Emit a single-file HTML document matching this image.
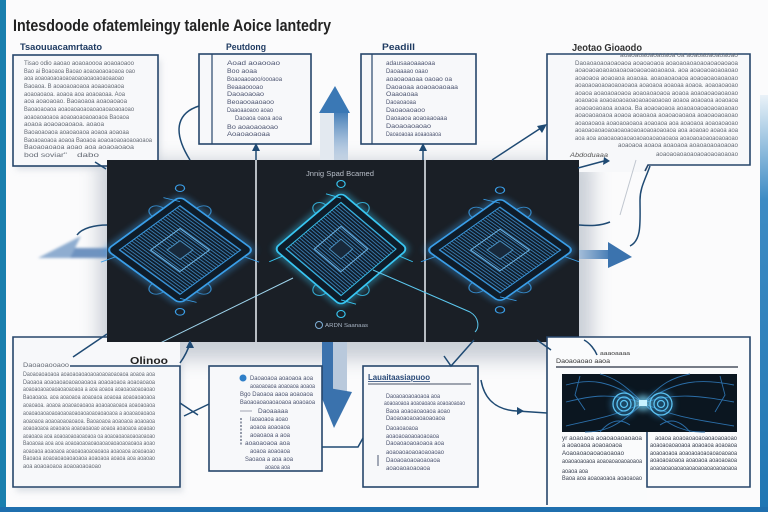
<!DOCTYPE html>
<html><head><meta charset="utf-8"><style>
html,body{margin:0;padding:0;background:#fbfbfc;}
svg{display:block;}
text{font-family:"Liberation Sans",sans-serif;}
.t{font-size:6px;fill:#646a74;}
.h{font-size:9px;font-weight:bold;fill:#1f3b62;}
.c{fill:none;stroke:#1f4a73;stroke-width:1.5;}
.b{fill:#f7f8fa;stroke:#27466b;stroke-width:1.6;}
</style></head><body>
<svg width="768" height="512" viewBox="0 0 768 512" xmlns="http://www.w3.org/2000/svg">
<defs>
<filter id="glow" x="-50%" y="-50%" width="200%" height="200%"><feGaussianBlur stdDeviation="3"/></filter>
<filter id="blur8" x="-50%" y="-50%" width="200%" height="200%"><feGaussianBlur stdDeviation="9"/></filter>
<filter id="blur3" x="-50%" y="-50%" width="200%" height="200%"><feGaussianBlur stdDeviation="3"/></filter>
<filter id="blur1" x="-50%" y="-50%" width="200%" height="200%"><feGaussianBlur stdDeviation="1.2"/></filter>
<pattern id="hatch" width="2.6" height="2.6" patternUnits="userSpaceOnUse"><rect width="2.6" height="2.6" fill="#101e2c"/><line x1="0" y1="1.3" x2="2.6" y2="1.3" stroke="#3f86c0" stroke-width="0.8"/></pattern>
<linearGradient id="rstrip" x1="0" y1="0" x2="0" y2="1"><stop offset="0" stop-color="#eaf2f8"/><stop offset="0.25" stop-color="#3d8bc4"/><stop offset="1" stop-color="#1f76b3"/></linearGradient>
<linearGradient id="upsh" x1="0" y1="0" x2="0" y2="1"><stop offset="0" stop-color="#3c78b4"/><stop offset="1" stop-color="#a9c1dc" stop-opacity="0.5"/></linearGradient>
<linearGradient id="rarr" x1="0" y1="0" x2="1" y2="0"><stop offset="0" stop-color="#a8c0da"/><stop offset="1" stop-color="#3a74b0"/></linearGradient>
<g id="chip">
 <rect x="-40" y="-40" width="80" height="80" rx="5" fill="none" stroke="currentColor" stroke-width="5" opacity=".5" filter="url(#glow)"/>
 <rect x="-40" y="-40" width="80" height="80" rx="5" fill="#0f1c29" stroke="currentColor" stroke-width="1.6"/>
 <rect x="-33" y="-33" width="66" height="66" fill="url(#hatch)" stroke="currentColor" stroke-width="0.9" opacity=".95"/>
 <rect x="-16" y="-16" width="32" height="32" fill="none" stroke="#6fb6e6" stroke-width="0.9"/>
 <rect x="-7" y="-7" width="14" height="14" fill="#18293b" stroke="#4a90c0" stroke-width="0.9"/>
 <path d="M-40,-22 C-50,-22 -50,-10 -40,-10 M40,10 C50,10 50,22 40,22 M-22,-40 C-22,-50 -10,-50 -10,-40 M10,40 C10,50 22,50 22,40" fill="none" stroke="currentColor" stroke-width="1" opacity=".8"/>
 <circle cx="-46" cy="-46" r="3.5" fill="none" stroke="currentColor" stroke-width="1"/>
 <circle cx="46" cy="46" r="3.5" fill="none" stroke="currentColor" stroke-width="1"/>
 <path d="M-36,-36 L-48,-30 M36,36 L48,30 M-30,40 L-34,52 M40,-30 L52,-34" stroke="currentColor" stroke-width="0.9" fill="none"/>
</g>
</defs>

<rect x="0" y="0" width="6" height="512" fill="#1a7fae"/>
<rect x="760" y="95" width="8" height="417" fill="url(#rstrip)"/>
<rect x="0" y="507" width="768" height="5" fill="#1f6fae"/>

<text x="13" y="31" font-size="17" font-weight="bold" fill="#222" textLength="318" lengthAdjust="spacingAndGlyphs">Intesdoode ofatemleingy talenle Aoice lantedry</text>

<rect x="98" y="160" width="495" height="200" fill="#8f9bab" opacity=".45" filter="url(#blur8)"/>
<rect x="16" y="60" width="145" height="110" fill="#c5ccd6" opacity=".5" filter="url(#blur3)"/>
<rect x="16" y="342" width="167" height="150" fill="#c5ccd6" opacity=".5" filter="url(#blur3)"/>

<rect x="320" y="110" width="14" height="52" fill="#e3e9f0"/>
<rect x="334" y="110" width="14" height="52" fill="url(#upsh)"/>
<polygon points="335,86 319,113 350,113" fill="#3a78b5"/>

<g filter="url(#blur1)">
<rect x="66" y="248" width="42" height="10" fill="#6e93c0"/>
<polygon points="81,236 38,258 70,258" fill="#8fadd0"/>
</g>
<rect x="578" y="250" width="36" height="9" fill="url(#rarr)"/>
<polygon points="608,242 632,257 608,268" fill="#3b73ae"/>

<rect x="322" y="340" width="11" height="52" fill="#3b72ad"/>
<rect x="333" y="340" width="14" height="52" fill="#b9c9dc"/>
<polygon points="317,386 352,392 334,428" fill="#3a72ad"/>

<text x="20" y="50" class="h" textLength="82" lengthAdjust="spacingAndGlyphs">Tsaouuacamrtaato</text>
<rect x="13" y="55" width="145" height="111" class="b"/>
<g class="t">
<text x="24" y="65" textLength="110" lengthAdjust="spacingAndGlyphs">Tisao odio aaoao aoaoaoooa aoaoaoaoo</text>
<text x="24" y="73" textLength="111" lengthAdjust="spacingAndGlyphs">Bao ai Boaoaoa Baoao aoaoaoaoaoaoa oao</text>
<text x="24" y="80" textLength="100" lengthAdjust="spacingAndGlyphs">aoa aoaoaoaoaoaoaoaoaoaoaoaoaaoao</text>
<text x="24" y="88" textLength="100" lengthAdjust="spacingAndGlyphs">Baoaoa. B aoaoaoaoaoa aoaaoaoaoa</text>
<text x="24" y="96" textLength="101" lengthAdjust="spacingAndGlyphs">aoaoaoaoa. aoaoa aoa aoaoaoaa. Aoa</text>
<text x="24" y="103" textLength="103" lengthAdjust="spacingAndGlyphs">aoa aoaoaoao. Baoaoaoa aoaoaoaoa</text>
<text x="24" y="111" textLength="110" lengthAdjust="spacingAndGlyphs">Baoaoaoaoa aoaoaoaoaoaoaoaoaoaoaoao</text>
<text x="24" y="119" textLength="105" lengthAdjust="spacingAndGlyphs">aoaoaoaoaoa aoaoaoaoaoaoaoa Baoaoa</text>
<text x="24" y="126" textLength="80" lengthAdjust="spacingAndGlyphs">aoaoa aoaoaoaoaoa. aoaoa</text>
<text x="24" y="134" textLength="105" lengthAdjust="spacingAndGlyphs">Baoaoaoaoa aoaoaoaoa aoaoa aoaoaa</text>
<text x="24" y="142" textLength="128" lengthAdjust="spacingAndGlyphs">Baoaoaoaoa aoaoa Baoaoa aoaoaoaoaoaoaoaoa</text>
<text x="24" y="149" textLength="110" lengthAdjust="spacingAndGlyphs">Baoaoaoaoa       aoao aoa aoaoaoaoa</text>
<text x="24" y="157" textLength="43" lengthAdjust="spacingAndGlyphs">bod soviar"</text>
<text x="77" y="157" textLength="22" lengthAdjust="spacingAndGlyphs">dabo</text>
</g>

<text x="226" y="50" class="h" textLength="40" lengthAdjust="spacingAndGlyphs">Peutdong</text>
<rect x="199" y="54" width="112" height="90" class="b"/>
<line x1="212" y1="54" x2="212" y2="144" stroke="#27466b" stroke-width="1.2"/>
<g class="t" style="fill:#4c5470">
<text x="227" y="65" textLength="53" lengthAdjust="spacingAndGlyphs">Aoad aoaooao</text>
<text x="227" y="73" textLength="30" lengthAdjust="spacingAndGlyphs">Boo aoaa</text>
<text x="227" y="81" textLength="55" lengthAdjust="spacingAndGlyphs">Boaoaaoaoo/oooaoa</text>
<text x="227" y="89" textLength="36" lengthAdjust="spacingAndGlyphs">Beaaaoooao</text>
<text x="227" y="96" textLength="37" lengthAdjust="spacingAndGlyphs">Daoaoaoao</text>
<text x="227" y="104" textLength="47" lengthAdjust="spacingAndGlyphs">Beoaooaaoaoo</text>
<text x="227" y="112" textLength="46" lengthAdjust="spacingAndGlyphs">Daaoaaoaoo aoao</text>
<text x="235" y="120" textLength="47" lengthAdjust="spacingAndGlyphs">Daoaoa oaoa aoa</text>
<text x="227" y="129" textLength="51" lengthAdjust="spacingAndGlyphs">Bo aoaoaoaoao</text>
<text x="227" y="136" textLength="43" lengthAdjust="spacingAndGlyphs">Aoaoaoaoaa</text>
</g>

<text x="382" y="50" class="h" textLength="33" lengthAdjust="spacingAndGlyphs">Peadill</text>
<rect x="361" y="54" width="115" height="90" class="b"/>
<line x1="372" y1="54" x2="372" y2="144" stroke="#27466b" stroke-width="1.2"/>
<g class="t" style="fill:#4c5470">
<text x="386" y="65" textLength="49" lengthAdjust="spacingAndGlyphs">adausaaoaaaoaa</text>
<text x="386" y="73" textLength="42" lengthAdjust="spacingAndGlyphs">Daoaaaao oaao</text>
<text x="386" y="81" textLength="66" lengthAdjust="spacingAndGlyphs">aoaoaoaoaa oaoao oa</text>
<text x="386" y="89" textLength="72" lengthAdjust="spacingAndGlyphs">Daoaoaa aoaoaoaoaaa</text>
<text x="386" y="96" textLength="32" lengthAdjust="spacingAndGlyphs">Oaaoaoaa</text>
<text x="386" y="104" textLength="30" lengthAdjust="spacingAndGlyphs">Daoaoaoaa</text>
<text x="386" y="112" textLength="39" lengthAdjust="spacingAndGlyphs">Daoaoaoaoo</text>
<text x="386" y="120" textLength="61" lengthAdjust="spacingAndGlyphs">Daoaaoa aoaoaaoaaa</text>
<text x="386" y="128" textLength="45" lengthAdjust="spacingAndGlyphs">Daoaoaoaoao</text>
<text x="386" y="136" textLength="55" lengthAdjust="spacingAndGlyphs">Daoaoaoaa aoaaoaaoa</text>
</g>

<text x="572" y="51" font-size="10" font-weight="bold" fill="#333" textLength="70" lengthAdjust="spacingAndGlyphs">Jeotao Gioaodo</text>
<path d="M547,54 L750,54 L750,165 L648,165 L648,172 L547,172 Z" fill="#f7f8fa" stroke="none"/>
<path d="M547,174 L547,54 L750,54 L750,165 L648,165 L645,171" class="c" style="stroke:#27466b;stroke-width:1.6"/>
<g class="t">
<text x="620" y="57" textLength="118" lengthAdjust="spacingAndGlyphs">aoaoaoaoaoaoaoa oa aoaoaoaoaoaoao</text>
<text x="575" y="65" textLength="163" lengthAdjust="spacingAndGlyphs">Daoaoaoaoaoaoaoa aoaoaoaoa aoaoaoaoaoaoaoaoaoaoa</text>
<text x="575" y="72" textLength="163" lengthAdjust="spacingAndGlyphs">aoaoaoaoaoaoaoaoaoaoaoaoaoaoa. aoa aoaoaoaoaoaoao</text>
<text x="575" y="80" textLength="163" lengthAdjust="spacingAndGlyphs">aoaoaoa aoaoaoa aoaoaa. aoaoaoaoaoa aoaoaoaoaoaoao</text>
<text x="575" y="87" textLength="163" lengthAdjust="spacingAndGlyphs">aoaoaoaoaoaoaoaoaoa aoaoaoa aoaoaa aoaoa. aoaoaoaoao</text>
<text x="575" y="95" textLength="163" lengthAdjust="spacingAndGlyphs">aoaoa aoaoaoaoaoa aoaoaoaoaoa aoaoa aoaoaoaoaoaoao</text>
<text x="575" y="102" textLength="163" lengthAdjust="spacingAndGlyphs">aoaoaoa aoaoaoaoaoaoaoaoaoaoao aoaoa aoaoaoa aoaoaoa</text>
<text x="575" y="110" textLength="163" lengthAdjust="spacingAndGlyphs">aoaoaoaoaoa aoaoa. Ba aoaoaoaoa aoaoaoaoaoaoaoaoao</text>
<text x="575" y="117" textLength="163" lengthAdjust="spacingAndGlyphs">aoaoaoaoaoa aoaoa  aoaoaoa aoaoaoaoaoa aoaoaoaoaoao</text>
<text x="575" y="125" textLength="163" lengthAdjust="spacingAndGlyphs">aoaoaoaoa aoaoaoaoaoa aoaoaoa aoa aoaoaoa aoaoaoaoao</text>
<text x="575" y="132" textLength="163" lengthAdjust="spacingAndGlyphs">aoaoaoaoaoaoaoaoaoaoaoaoaoaoaoa aoa aoaoao aoaoa aoa</text>
<text x="575" y="140" textLength="163" lengthAdjust="spacingAndGlyphs">aoa aoa aoaoaoaoaoaoaoaoaoaoaoaoa aoaoaoaoaoaoaoaoao</text>
<text x="618" y="147" textLength="120" lengthAdjust="spacingAndGlyphs">aoaoaoa aoaoa aoaoaoa aoaoaoaoaoaoao</text>
<text x="656" y="156" textLength="82" lengthAdjust="spacingAndGlyphs">aoaoaoaoaoaoaoaoaoaoaoao</text>
</g>
<text x="570" y="157" font-size="6.5" font-style="italic" fill="#555" textLength="38" lengthAdjust="spacingAndGlyphs">Abdoduaaa</text>

<rect x="107" y="160" width="472" height="182" fill="#1a1f26"/>
<line x1="256" y1="160" x2="256" y2="342" stroke="#c9ced5" stroke-width="1.8"/>
<line x1="425" y1="160" x2="425" y2="342" stroke="#c9ced5" stroke-width="1.8"/>
<text x="340" y="176" font-size="7" fill="#b8bec8" text-anchor="middle" textLength="68" lengthAdjust="spacingAndGlyphs">Jnnig Spad Bcamed</text>
<circle cx="319" cy="325" r="3.5" fill="none" stroke="#7fb0d8" stroke-width="1"/>
<text x="325" y="327" font-size="5.5" fill="#a8b4c4" textLength="43" lengthAdjust="spacingAndGlyphs">ARDN Saanaas</text>

<use href="#chip" color="#3a9ee8" transform="translate(180,250) scale(1.3,0.95) rotate(45)"/>
<use href="#chip" color="#38c6f2" transform="translate(341,249) scale(1.18,1.0) rotate(45)"/>
<use href="#chip" color="#3a9ee8" transform="translate(500,250) scale(1.3,0.92) rotate(45)"/>

<path d="M293,278 L162,342 L140,356" fill="none" stroke="#9fd4ec" stroke-width="1"/>
<path d="M373,270 L470,312 C480,318 479,328 475,332" fill="none" stroke="#5cc8ef" stroke-width="1"/>

<path d="M13,337 L107,337 L107,342 L180,342 L180,487 L13,487 Z" fill="#f7f8fa"/>
<path d="M107,337 L13,337 L13,487 L180,487 L180,366 L70,366" fill="none" stroke="#27466b" stroke-width="1.6"/>
<text x="130" y="364" font-size="10" font-weight="bold" fill="#222" textLength="38" lengthAdjust="spacingAndGlyphs">Olinoo</text>
<g class="t">
<text x="23" y="367" textLength="46" lengthAdjust="spacingAndGlyphs">Daoaoaooaoo</text>
<text x="23" y="376" textLength="132" lengthAdjust="spacingAndGlyphs">Daoaoaoaoaoa aoaoaoaoaoaoaoaoaoaoaoa aoaoa aoa</text>
<text x="23" y="384" textLength="132" lengthAdjust="spacingAndGlyphs">Daoaoa aoaoaoaoaoaoaoaoa aoaoaoaoa aoaoaoaoa</text>
<text x="23" y="391" textLength="132" lengthAdjust="spacingAndGlyphs">aoaoaoaoaoaoaoaoaoaoa a aoa aoaoa aoaoaoaoaoaoao</text>
<text x="23" y="399" textLength="132" lengthAdjust="spacingAndGlyphs">Baoaoaoa. aoa aoaoaoa aoaoaoa aoaoaa aoaoaoaoaoa</text>
<text x="23" y="407" textLength="132" lengthAdjust="spacingAndGlyphs">aoaoaoa. aoaoa aoaoaoaoaoa aoaoaoaoaoa aoaoaoaoa</text>
<text x="23" y="415" textLength="132" lengthAdjust="spacingAndGlyphs">aoaoaoaoaoaoaoaoaoaoaoaoaoaoaoaoa a aoaoaoaoaoa</text>
<text x="23" y="423" textLength="132" lengthAdjust="spacingAndGlyphs">aoaoaoa aoaoaoaoaoaoa. Baoaoaoa aoaoaoa aoaoaoa</text>
<text x="23" y="430" textLength="132" lengthAdjust="spacingAndGlyphs">aoaoaoaoa aoaoaoa aoaoaoaoao aoaoa aoaoaoa aoaoao</text>
<text x="23" y="438" textLength="132" lengthAdjust="spacingAndGlyphs">aoaoaoa aoa aoaoaoaoaoaoaoa oa aoaoaoaoaoaoaoaoao</text>
<text x="23" y="445" textLength="132" lengthAdjust="spacingAndGlyphs">Baoaoaa aoa aoa aoaoaoaoaoaoaoaoaoaoaoaoaoa aoao</text>
<text x="23" y="453" textLength="132" lengthAdjust="spacingAndGlyphs">aoaoaoa aoaoaoa aoaoaoaoaoaoaoa aoaoaoa aoaoaoao</text>
<text x="23" y="460" textLength="132" lengthAdjust="spacingAndGlyphs">Baoaoa aoaoaoaoaoaoaoa aoaoaoa aoaoa aoa aoaoao</text>
<text x="23" y="468" textLength="78" lengthAdjust="spacingAndGlyphs">aoa aoaoaoaoa aoaoaoaoaoao</text>
</g>

<rect x="209" y="366" width="113" height="105" class="b"/>
<circle cx="243" cy="378" r="3.5" fill="#2f7fc8"/>
<g class="t" style="fill:#4c5470">
<text x="250" y="380" textLength="63" lengthAdjust="spacingAndGlyphs">Daoaoaoa aoaoaoa aoa</text>
<text x="250" y="388" textLength="65" lengthAdjust="spacingAndGlyphs">aoaoaoaoa aoaoaoa aoaoa</text>
<text x="240" y="396" textLength="73" lengthAdjust="spacingAndGlyphs">Bgo Daoaoa aaoa aoaoaoa</text>
<text x="240" y="404" textLength="75" lengthAdjust="spacingAndGlyphs">Baoaoaoaoaoaoaoa aoaoaoa</text>
<text x="258" y="413" textLength="30" lengthAdjust="spacingAndGlyphs">Daoaaaaa</text>
<text x="250" y="421" textLength="38" lengthAdjust="spacingAndGlyphs">Iaoaoaoa aoao</text>
<text x="250" y="429" textLength="40" lengthAdjust="spacingAndGlyphs">aoaoa aoaoaoa</text>
<text x="250" y="437" textLength="40" lengthAdjust="spacingAndGlyphs">aoaoaoa a aoa</text>
<text x="245" y="445" textLength="45" lengthAdjust="spacingAndGlyphs">aoaoaoaoa aoa</text>
<text x="250" y="453" textLength="40" lengthAdjust="spacingAndGlyphs">aoaoa aoaoaoa</text>
<text x="245" y="461" textLength="48" lengthAdjust="spacingAndGlyphs">Saoaoa a aoa aoa</text>
<text x="265" y="469" textLength="25" lengthAdjust="spacingAndGlyphs">aoaoa aoa</text>
</g>
<line x1="240" y1="411" x2="252" y2="411" stroke="#8a90a0" stroke-width=".8"/>
<path d="M241,418 L241,445" stroke="#6a7388" stroke-width="1.4" stroke-dasharray="2,1.5"/>

<rect x="363" y="366" width="115" height="121" class="b"/>
<text x="368" y="380" font-size="8" font-weight="bold" fill="#2a4a78" textLength="62" lengthAdjust="spacingAndGlyphs" text-decoration="underline">Lauaitaasiapuoo</text>
<line x1="368" y1="384" x2="471" y2="384" stroke="#6a7282" stroke-width="1.2"/>
<g class="t" style="fill:#4c5470">
<text x="386" y="398" textLength="54" lengthAdjust="spacingAndGlyphs">Daoaoaoaoaoaoa aoa</text>
<text x="384" y="405" textLength="81" lengthAdjust="spacingAndGlyphs">aoaoaoaoa aoaoaoaoa aoaoaoaoao</text>
<text x="386" y="413" textLength="64" lengthAdjust="spacingAndGlyphs">Baoa aoaoaoaoaoa aoao</text>
<text x="386" y="420" textLength="59" lengthAdjust="spacingAndGlyphs">Daoaoaoaoaoaoaoaoa</text>
<text x="386" y="430" textLength="32" lengthAdjust="spacingAndGlyphs">Daoaoaoaoa</text>
<text x="386" y="438" textLength="53" lengthAdjust="spacingAndGlyphs">aoaoaoaoaoaoaoaoa</text>
<text x="386" y="445" textLength="58" lengthAdjust="spacingAndGlyphs">Daoaoaoaoaoaoa aoa</text>
<text x="386" y="454" textLength="58" lengthAdjust="spacingAndGlyphs">aoaoaoaoaoaoaoaoao</text>
<text x="386" y="462" textLength="54" lengthAdjust="spacingAndGlyphs">Daoaoaoaoaoaoaoa</text>
<text x="386" y="470" textLength="44" lengthAdjust="spacingAndGlyphs">aoaoaoaoaoaoa</text>
</g>
<line x1="378" y1="455" x2="378" y2="466" stroke="#6a7388" stroke-width="1.2"/>

<path d="M547,337 L750,337 L750,487 L647,487 L647,503 L547,503 Z" fill="#fafbfc"/>
<path d="M547,505 L547,337 L750,337 L750,487 L647,487 L647,432" fill="none" stroke="#27466b" stroke-width="1.6"/>
<text x="600" y="355" font-size="5" fill="#333" textLength="30" lengthAdjust="spacingAndGlyphs">aaaoaaaa</text>
<text x="556" y="363" font-size="6" fill="#333" textLength="54" lengthAdjust="spacingAndGlyphs">Daoaoaoao aaoa</text>
<line x1="556" y1="367" x2="738" y2="367" stroke="#4a5260" stroke-width="1.6"/>
<rect x="562" y="374" width="175" height="58" fill="#0b1620"/>
<g fill="none" stroke="#2b6ea8" stroke-width=".9">
<path d="M643,403 C610,380 590,378 566,385"/><path d="M643,403 C610,392 590,396 566,402"/>
<path d="M643,403 C610,418 590,420 566,426"/><path d="M643,403 C615,430 600,432 585,432"/>
<path d="M643,403 C676,380 700,378 734,385"/><path d="M643,403 C676,392 700,396 734,402"/>
<path d="M643,403 C676,418 700,420 734,426"/><path d="M643,403 C672,430 688,432 705,432"/>
<path d="M643,403 C625,385 615,378 600,374"/><path d="M643,403 C660,385 670,378 690,374"/>
<path d="M580,376 L575,395 L585,410"/><path d="M720,376 L725,395 L715,412"/>
<path d="M600,432 C610,420 620,418 630,425"/><path d="M660,425 C670,418 680,420 690,432"/>
</g>
<circle cx="624" cy="404" r="14" fill="#3aa0e0" opacity=".35" filter="url(#glow)"/>
<circle cx="661" cy="404" r="14" fill="#3aa0e0" opacity=".35" filter="url(#glow)"/>
<g fill="none" stroke="#5cc3f2" stroke-width="1.3">
<circle cx="624" cy="404" r="11"/><circle cx="624" cy="404" r="7"/><circle cx="624" cy="404" r="3.5"/>
<circle cx="661" cy="404" r="11"/><circle cx="661" cy="404" r="7"/><circle cx="661" cy="404" r="3.5"/>
</g>
<circle cx="643" cy="403" r="8" fill="#7fdcff" opacity=".7" filter="url(#glow)"/>
<rect x="639" y="400" width="8" height="6" fill="#c8f2ff"/>
<g class="t" style="fill:#3a4150">
<text x="562" y="440" textLength="80" lengthAdjust="spacingAndGlyphs">yr aoaoaoa aoaoaoaoaoaoa</text>
<text x="562" y="447" textLength="60" lengthAdjust="spacingAndGlyphs">a aoaoaoa aoaoaoaoa</text>
<text x="562" y="455" textLength="62" lengthAdjust="spacingAndGlyphs">Aoaoaoaoaoaoaoaoao</text>
<text x="562" y="463" textLength="80" lengthAdjust="spacingAndGlyphs">aoaoaoaoaoa aoaoaoaoaoaoaoa</text>
<text x="562" y="473" textLength="26" lengthAdjust="spacingAndGlyphs">aoaoa aoa</text>
<text x="562" y="480" textLength="80" lengthAdjust="spacingAndGlyphs">Baoa aoa aoaoaoaoa aoaoaoao</text>
<text x="655" y="440" textLength="82" lengthAdjust="spacingAndGlyphs">aoaoa aoaoaoaoaoaoaoaoaoao</text>
<text x="650" y="447" textLength="87" lengthAdjust="spacingAndGlyphs">aoaoaoaoaoaoa aoaoaoa aoaoaoa</text>
<text x="650" y="455" textLength="87" lengthAdjust="spacingAndGlyphs">aoaoaoaoa aoaoaoaoaoaoaoaoaoa</text>
<text x="650" y="462" textLength="87" lengthAdjust="spacingAndGlyphs">aoaoaoaoaoa aoaoaoa aoaoaoaoa</text>
<text x="650" y="470" textLength="87" lengthAdjust="spacingAndGlyphs">aoaoaoaoaoaoaoaoaoaoaoaoaoaoa</text>
</g>

<g class="c">
<path d="M95,162 L106,169"/>
<path d="M199,106 C180,112 170,128 190,160"/>
<path d="M256,146 L256,160"/>
<path d="M423,146 L423,160"/>
<path d="M492,160 L544,126"/>
<path d="M578,168 L604,161"/>
<path d="M650,166 C645,180 640,188 640,200 C640,222 642,240 630,246"/>
<path d="M107,225 C95,225 82,228 77,235"/>
<path d="M107,334 L73,357"/>
<path d="M180,363 C185,356 188,350 190,343"/>
<path d="M180,403 L198,415 M184,416 L209,404"/>
<path d="M322,447 L358,447 L363,438"/>
<path d="M444,356 L451,366 L474,340"/>
<path d="M481,380 C484,398 495,410 517,411 L547,413"/>
<path d="M537,340 L551,350"/>
<path d="M584,340 C590,343 595,350 597,355"/>
<path d="M579,225 C590,226 600,226 610,222"/>
</g>
<path d="M636,160 L620,215" stroke="#c0c6cf" stroke-width="1" fill="none"/>
<g fill="#1f4a73">
<polygon points="256,143 252,151 260,151"/>
<polygon points="423,143 419,151 427,151"/>
<polygon points="547,124 537,126 542,133"/>
<polygon points="190,340 186,348 194,348"/>
<polygon points="517,407 524,411 517,415"/>
<polygon points="604,157 610,161 603,165"/>
</g>
</svg>
</body></html>
